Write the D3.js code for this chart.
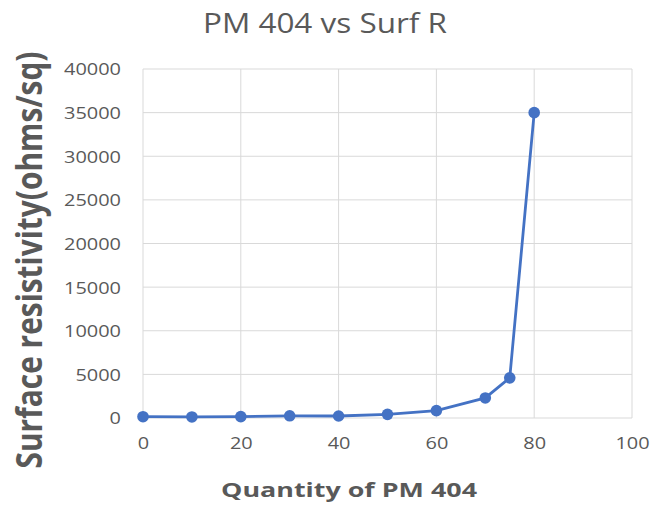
<!DOCTYPE html>
<html>
<head>
<meta charset="utf-8">
<script src="https://cdn.jsdelivr.net/npm/d3@7"></script>
<style>
  body { margin: 0; background: white; }
  text { font-family: "Open Sans", sans-serif; }
</style>
</head>
<body>
<div id="container"></div>
<script>
const quantity = [0, 10, 20, 30, 40, 50, 60, 70, 75, 80]
const resistivity = [150, 120, 160, 250, 230, 420, 850, 2300, 4600, 35000]
const xTicks = [0, 20, 40, 60, 80, 100]
const yTicks = [0, 5000, 10000, 15000, 20000, 25000, 30000, 35000, 40000]

const w = 651
const h = 506
const plotLeft = 143, plotRight = 632, plotTop = 69, plotBottom = 418
const digitW = 11.4

const svg = d3.select('#container')
  .append('svg')
    .attr('width', w)
    .attr('height', h)
    .style('background', 'white')

const scaleX = d3.scaleLinear().domain([0, 100]).range([plotLeft, plotRight])
const scaleY = d3.scaleLinear().domain([0, 40000]).range([plotBottom, plotTop])

// gridlines
svg.append('g')
  .selectAll('line')
  .data(yTicks)
  .enter()
  .append('line')
    .attr('x1', plotLeft).attr('x2', plotRight)
    .attr('y1', d => scaleY(d)).attr('y2', d => scaleY(d))
    .attr('stroke', '#d9d9d9')
    .attr('stroke-width', 1)

svg.append('g')
  .selectAll('line')
  .data(xTicks)
  .enter()
  .append('line')
    .attr('x1', d => scaleX(d)).attr('x2', d => scaleX(d))
    .attr('y1', plotTop).attr('y2', plotBottom)
    .attr('stroke', '#d9d9d9')
    .attr('stroke-width', 1)

const axisX = d3.axisBottom(scaleX).tickValues(xTicks).tickSize(0).tickPadding(19)
const axisY = d3.axisLeft(scaleY).tickValues(yTicks).tickSize(0).tickPadding(22).tickFormat(d3.format('d'))

svg.append('g')
  .attr('transform', `translate(0, ${plotBottom})`)
  .call(axisX)
  .call(g => g.select('.domain').remove())
  .selectAll('text')
    .attr('font-size', 17)
    .attr('fill', '#595959')
    .attr('textLength', d => String(d).length * digitW)
    .attr('lengthAdjust', 'spacingAndGlyphs')
    .style('font-family', '"Open Sans", sans-serif')

svg.append('g')
  .attr('transform', `translate(${plotLeft}, 0)`)
  .call(axisY)
  .call(g => g.select('.domain').remove())
  .selectAll('text')
    .attr('font-size', 17)
    .attr('fill', '#595959')
    .attr('dy', '0.35em')
    .attr('textLength', d => String(d).length * digitW)
    .attr('lengthAdjust', 'spacingAndGlyphs')
    .style('font-family', '"Open Sans", sans-serif')

const line = d3.line()
  .x((d, i) => scaleX(quantity[i]))
  .y(d => scaleY(d))

svg.append('path')
  .datum(resistivity)
  .attr('d', line)
  .attr('fill', 'none')
  .attr('stroke', '#4472c4')
  .attr('stroke-width', 2.8)

svg.selectAll('circle')
  .data(resistivity)
  .enter()
  .append('circle')
    .attr('cx', (d, i) => scaleX(quantity[i]))
    .attr('cy', d => scaleY(d))
    .attr('r', 5.8)
    .attr('fill', '#4472c4')

svg.append('text')
  .attr('x', 325)
  .attr('y', 33)
  .attr('text-anchor', 'middle')
  .attr('font-size', 28)
  .attr('fill', '#595959')
  .attr('textLength', 244)
  .attr('lengthAdjust', 'spacingAndGlyphs')
  .text('PM 404 vs Surf R')

svg.append('text')
  .attr('x', 349)
  .attr('y', 497)
  .attr('text-anchor', 'middle')
  .attr('font-size', 19)
  .attr('font-weight', 'bold')
  .attr('fill', '#595959')
  .attr('textLength', 256)
  .attr('lengthAdjust', 'spacingAndGlyphs')
  .text('Quantity of PM 404')

svg.append('text')
  .attr('transform', 'translate(42, 260) rotate(-90)')
  .attr('text-anchor', 'middle')
  .attr('font-size', 35)
  .attr('font-weight', 'bold')
  .attr('fill', '#595959')
  .attr('textLength', 417)
  .attr('lengthAdjust', 'spacingAndGlyphs')
  .text('Surface resistivity(ohms/sq)')
</script>
</body>
</html>
